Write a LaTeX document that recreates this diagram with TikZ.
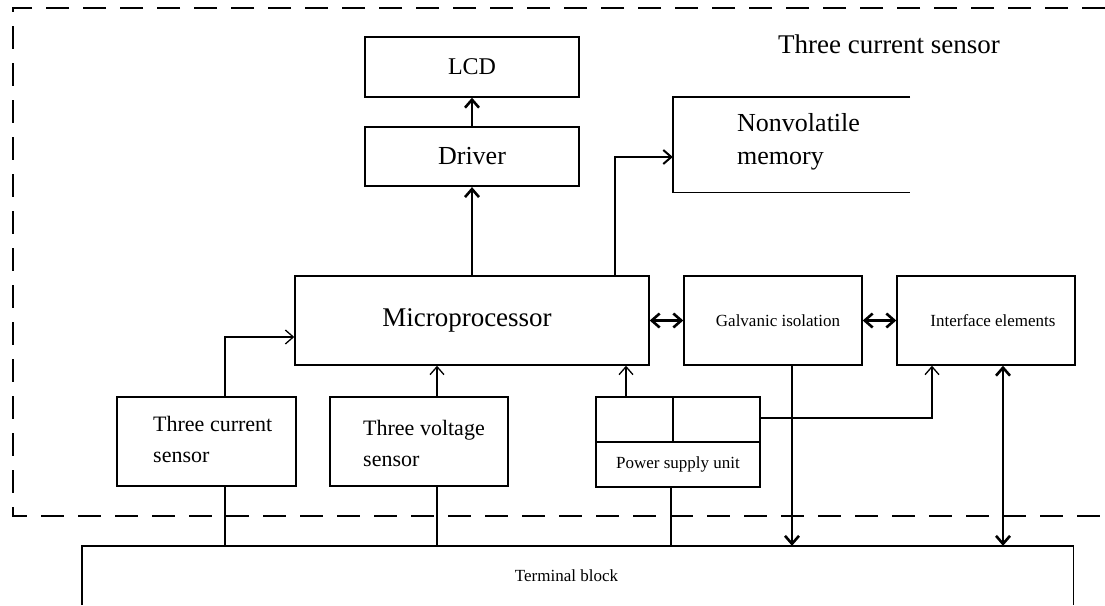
\documentclass[tikz,border=0pt]{standalone}
\usepackage{fontspec}
\setmainfont{Liberation Serif}
\usetikzlibrary{arrows.meta}
\begin{document}
\begin{tikzpicture}[x=1pt,y=-1pt,
  box/.style={draw, line width=1.4pt, inner sep=0pt},
  thickbox/.style={box, line width=2.2pt},
  nobox/.style={inner sep=0pt},
  txt/.style={inner sep=0pt, align=left},
  thin/.style={line width=1.3pt},
  heavy/.style={line width=2.6pt},
  tip/.style={-{Straight Barb[length=8pt,width=14pt]}},
  dtip/.style={{Straight Barb[length=8pt,width=14pt]}-{Straight Barb[length=8pt,width=14pt]}},
  frame/.style={line width=2.6pt, dash pattern=on 23pt off 14pt},
  big/.style={font=\fontsize{27}{31}\selectfont},
  mid/.style={font=\fontsize{22}{31}\selectfont},
  small/.style={font=\fontsize{17}{20}\selectfont}
]
\useasboundingbox (0,0) rectangle (1105,605);
% dashed frame
\draw[frame] (1105,8) coordinate (ftr) -- (13,8) coordinate (ftl) -- (13,516) coordinate (fbl) -- (1105,516) coordinate (fbr);
\node[big] (title) at (889,44) {Three current sensor};

% boxes
\node[box, minimum width=214pt, minimum height=60pt, font=\fontsize{24}{28}\selectfont] (lcd) at (472,67) {LCD};
\node[thickbox, minimum width=214pt, minimum height=59pt, font=\fontsize{26}{30}\selectfont] (drv) at (472,156.5) {Driver};
\node[nobox, minimum width=237pt, minimum height=95pt] (mem) at (791.5,144.5) {};
\draw[box] (mem.north east) -- (mem.north west) -- (mem.south west) -- (mem.south east);
\node[txt, anchor=west, font=\fontsize{26}{33}\selectfont] (memt) at (737,141.5) {Nonvolatile\\memory};
\node[box, minimum width=354pt, minimum height=89pt, big] (micro) at (472,320.5) {Microprocessor\kern10pt};
\node[box, minimum width=178pt, minimum height=89pt, small] (gal) at (773,320.5) {\kern10pt Galvanic isolation};
\node[box, minimum width=178pt, minimum height=89pt, small] (intf) at (986,320.5) {\kern14pt Interface elements};
\node[box, minimum width=179pt, minimum height=89pt] (cs) at (206.5,441.5) {};
\node[txt, anchor=west, mid] (cst) at (153,439.5) {Three current\\sensor};
\node[box, minimum width=178pt, minimum height=89pt] (vs) at (419,441.5) {};
\node[txt, anchor=west, mid] (vst) at (363,443) {Three voltage\\sensor};
\node[box, minimum width=164pt, minimum height=90pt] (psu) at (678,442) {};
\draw[box] (psu.west) -- (psu.east);
\draw[box] ([xshift=-5pt]psu.north) -- ([xshift=-5pt]psu.center);
\node[small] (psut) at (678,464.5) {Power supply unit};
\node[nobox, minimum width=991pt, minimum height=59pt, small] (term) at (577.5,575.5) {Terminal block\kern22pt};
\draw[box] (term.south west) -- (term.north west) -- (term.north east) -- (term.south east);

% connectors
\draw[heavy, tip] (drv.north) -- (lcd.south);
\draw[heavy, tip] (micro.north) -- (drv.south);
\draw[line width=2pt, tip] ([xshift=143pt]micro.north) |- ([yshift=-12.5pt]mem.west);
\draw[heavy, dtip] (micro.east) -- (gal.west);
\draw[heavy, dtip] (gal.east) -- (intf.west);
\draw[thin, tip] ([xshift=18.5pt]cs.north) |- ([yshift=-16.5pt]micro.west);
\draw[thin, tip] ([xshift=18pt]vs.north) -- ([xshift=18pt]vs.north |- micro.south);
\draw[thin, tip] ([xshift=-52pt]psu.north) -- ([xshift=-52pt]psu.north |- micro.south);
\draw[thin, tip] ([yshift=24pt]psu.east) -| ([xshift=-54pt]intf.south);
\draw[heavy, tip] ([xshift=19pt]gal.south) -- ([xshift=19pt]gal.south |- term.north);
\draw[heavy, dtip] ([xshift=17pt]intf.south) -- ([xshift=17pt]intf.south |- term.north);
\draw[heavy] ([xshift=-7pt]psu.south) -- ([xshift=-7pt]psu.south |- term.north);
\draw[thin] ([xshift=18.5pt]cs.south) -- ([xshift=18.5pt]cs.south |- term.north);
\draw[thin] ([xshift=18pt]vs.south) -- ([xshift=18pt]vs.south |- term.north);
\end{tikzpicture}
\end{document}
